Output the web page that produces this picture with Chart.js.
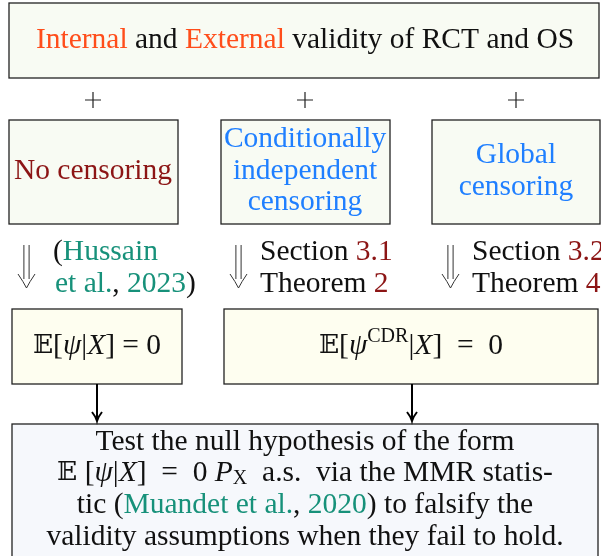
<!DOCTYPE html>
<html>
<head>
<meta charset="utf-8">
<script src="https://cdn.jsdelivr.net/npm/chart.js@4.4.1/dist/chart.umd.min.js"></script>
<style>
  html, body { margin: 0; background: #fff; }
  #wrap { width: 601px; height: 556px; }
</style>
</head>
<body>
<div id="wrap"><canvas id="diagram"></canvas></div>
<script>
// colours used by the text spans
const RED = "#ff4d1a", DARK = "#8c1515", BLUE = "#1f7fff", TEAL = "#17917a", INK = "#111";

// boxes of the flow diagram (page units, y grows downward)
const boxLeft   = [9, 9, 221, 432, 12, 224, 12];
const boxRight  = [599, 178, 390, 600, 182, 598, 598];
const boxTop    = [3, 120, 120, 120, 309, 309, 424];
const boxBottom = [78, 224, 224, 224, 384, 384, 570];
const boxFill   = ["#f8fbf3", "#f8fbf3", "#f8fbf3", "#f8fbf3", "#fefef0", "#fefef0", "#f6f8fc"];

// "+" signs between the first two rows
const plusX = [93, 305, 516];
const plusY = [100, 100, 100];

// double arrows (⇓) above the lower boxes
const dblX = [26.5, 238.5, 450.5];
const dblTop = 245, dblTip = 288;

// single arrows from the equation boxes to the test box
const arrowX = [97, 412];
const arrowFrom = 384, arrowTo = 421;

// text lines: [x, y, align, spans]
const textLines = [
  [305, 40, "center", [["Internal", RED], [" and ", INK], ["External", RED], [" validity of RCT and OS", INK]]],
  [93, 171, "center", [["No censoring", DARK]]],
  [305, 139, "center", [["Conditionally", BLUE]]],
  [305, 171, "center", [["independent", BLUE]]],
  [305, 202, "center", [["censoring", BLUE]]],
  [516, 155, "center", [["Global", BLUE]]],
  [516, 187, "center", [["censoring", BLUE]]],
  [53, 252, "left", [["(", INK], ["Hussain", TEAL]]],
  [55, 284, "left", [["et al.", TEAL], [", ", INK], ["2023", TEAL], [")", INK]]],
  [260, 252, "left", [["Section ", INK], ["3.1", DARK]]],
  [260, 284, "left", [["Theorem ", INK], ["2", DARK]]],
  [472, 252, "left", [["Section ", INK], ["3.2", DARK]]],
  [472, 284, "left", [["Theorem ", INK], ["4", DARK]]],
  [97, 346, "center", [["𝔼", INK, "bb"], ["[", INK], ["ψ", INK, "i"], ["|", INK], ["X", INK, "i"], ["] = 0", INK]]],
  [411, 346, "center", [["𝔼", INK, "bb"], ["[", INK], ["ψ", INK, "i"], ["CDR", INK, "sup"], ["|", INK], ["X", INK, "i"], ["]  =  0", INK]]],
  [305, 442, "center", [["Test the null hypothesis of the form", INK]]],
  [305, 473, "center", [["𝔼", INK, "bb"], [" [", INK], ["ψ", INK, "i"], ["|", INK], ["X", INK, "i"], ["]  =  0 ", INK], ["P", INK, "i"], ["X", INK, "sub"], ["  a.s.  via the MMR statis-", INK]]],
  [305, 505, "center", [["tic (", INK], ["Muandet et al.", TEAL], [", ", INK], ["2020", TEAL], [") to falsify the", INK]]],
  [305, 537, "center", [["validity assumptions when they fail to hold.", INK]]]
];

const FONT_SIZE = 29.5;
const FAMILY = "'Liberation Serif', 'Times New Roman', serif";
let pass = 0;   // every redraw uses fresh font strings so stale font lookups are not reused

function spanFont(kind) {
  const s = FONT_SIZE + pass * 0.001;
  if (kind === "i") return "italic " + s + "px " + FAMILY;
  if (kind === "sup" || kind === "sub") return (s * 0.68).toFixed(3) + "px " + FAMILY;
  if (kind === "bb") return (s - 3) + "px 'DejaVu Serif', 'DejaVu Sans', serif";
  return s + "px " + FAMILY;
}

const diagramPlugin = {
  id: "diagram",
  afterDraw(chart) {
    pass++;
    const ctx = chart.ctx;
    const sx = chart.scales.x, sy = chart.scales.y;
    const px = v => sx.getPixelForValue(v);
    const py = v => sy.getPixelForValue(v);
    ctx.save();

    // boxes
    for (let i = 0; i < boxLeft.length; i++) {
      const x0 = px(boxLeft[i]), x1 = px(boxRight[i]);
      const y0 = py(boxTop[i]), y1 = py(boxBottom[i]);
      ctx.fillStyle = boxFill[i];
      ctx.fillRect(x0, y0, x1 - x0, y1 - y0);
      ctx.strokeStyle = "#222";
      ctx.lineWidth = 1.3;
      ctx.strokeRect(x0, y0, x1 - x0, y1 - y0);
    }

    // plus signs
    ctx.strokeStyle = "#222";
    ctx.lineWidth = 1.2;
    plusX.forEach((x, i) => {
      const cx = px(x), cy = py(plusY[i]);
      ctx.beginPath();
      ctx.moveTo(cx - 8, cy); ctx.lineTo(cx + 8, cy);
      ctx.moveTo(cx, cy - 8); ctx.lineTo(cx, cy + 8);
      ctx.stroke();
    });

    // double arrows
    ctx.lineWidth = 1;
    ctx.strokeStyle = "#333";
    dblX.forEach(x => {
      const cx = px(x), top = py(dblTop), tip = py(dblTip);
      ctx.beginPath();
      ctx.moveTo(cx - 2.6, top); ctx.lineTo(cx - 2.6, tip - 9);
      ctx.moveTo(cx + 2.6, top); ctx.lineTo(cx + 2.6, tip - 9);
      ctx.moveTo(cx - 8.5, tip - 14); ctx.quadraticCurveTo(cx - 3, tip - 6, cx, tip);
      ctx.quadraticCurveTo(cx + 3, tip - 6, cx + 8.5, tip - 14);
      ctx.stroke();
    });

    // single arrows
    ctx.lineWidth = 2;
    ctx.strokeStyle = "#000";
    arrowX.forEach(x => {
      const cx = px(x), y0 = py(arrowFrom), y1 = py(arrowTo);
      ctx.beginPath();
      ctx.moveTo(cx, y0); ctx.lineTo(cx, y1 - 1);
      ctx.moveTo(cx - 5, y1 - 9); ctx.quadraticCurveTo(cx - 1, y1 - 4, cx, y1);
      ctx.quadraticCurveTo(cx + 1, y1 - 4, cx + 5, y1 - 9);
      ctx.stroke();
    });

    // text
    ctx.textBaseline = "middle";
    ctx.textAlign = "left";
    textLines.forEach(([x, y, align, spans]) => {
      let total = 0;
      const widths = spans.map(([t, c, k]) => {
        ctx.font = spanFont(k);
        const w = ctx.measureText(t).width;
        total += w;
        return w;
      });
      let cx = align === "center" ? px(x) - total / 2 : px(x);
      const cy = py(y);
      spans.forEach(([t, c, k], i) => {
        ctx.font = spanFont(k);
        ctx.fillStyle = c;
        let dy = 0;
        if (k === "sup") dy = -9;
        if (k === "sub") dy = 6;
        ctx.fillText(t, cx, cy + dy);
        cx += widths[i];
      });
    });

    ctx.restore();
  }
};

let chart = null;
function build() {
  if (chart) return;
  chart = new Chart(document.getElementById("diagram"), {
    type: "scatter",
    data: { datasets: [{ data: [] }] },
    options: {
      responsive: true,
      maintainAspectRatio: false,
      animation: false,
      layout: { padding: 0 },
      plugins: { legend: { display: false }, tooltip: { enabled: false } },
      scales: {
        x: { type: "linear", min: 0, max: 601, display: false },
        y: { type: "linear", min: 0, max: 556, reverse: true, display: false }
      }
    },
    plugins: [diagramPlugin]
  });
  [60, 150, 400, 900].forEach(t => setTimeout(() => chart.draw(), t));
}

build();
window.addEventListener("load", () => {
  document.fonts.ready.then(() => requestAnimationFrame(() => chart.draw()));
});
</script>
</body>
</html>
